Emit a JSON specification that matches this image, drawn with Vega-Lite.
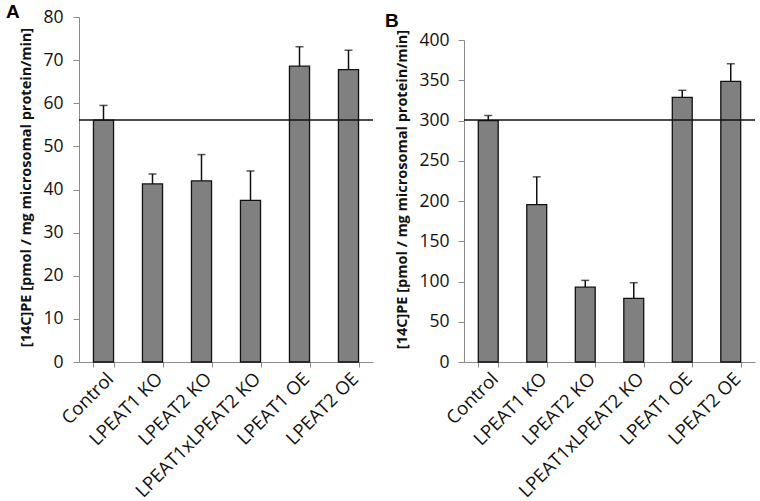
{
  "$schema": "https://vega.github.io/schema/vega-lite/v6.json",
  "background": "white",
  "padding": {"left": 5, "top": 3, "right": 3, "bottom": 2},
  "spacing": 10,
  "config": {
    "view": {"stroke": null},
    "axis": {
      "labelFont": "Open Sans",
      "labelFontSize": 17.5,
      "labelColor": "#111111",
      "titleFont": "Open Sans",
      "titleFontSize": 14.5,
      "titleFontWeight": "bold",
      "titleColor": "#111111",
      "domainColor": "#8c8c8c",
      "tickColor": "#8c8c8c",
      "domainWidth": 1,
      "grid": false
    },
    "title": {"font": "Liberation Sans", "fontSize": 19, "fontWeight": "bold", "color": "#000000", "anchor": "start", "frame": "bounds"}
  },
  "hconcat": [
    {
      "title": {"text": "A", "dx": -13, "offset": -14},
      "width": 294,
      "height": 345,
      "data": {"values": [
        {"g": "Control", "v": 56.1, "upper": 59.5},
        {"g": "LPEAT1 KO", "v": 41.3, "upper": 43.6},
        {"g": "LPEAT2 KO", "v": 42.0, "upper": 48.1},
        {"g": "LPEAT1xLPEAT2 KO", "v": 37.5, "upper": 44.3},
        {"g": "LPEAT1 OE", "v": 68.6, "upper": 73.1},
        {"g": "LPEAT2 OE", "v": 67.8, "upper": 72.3}
      ]},
      "encoding": {
        "x": {"field": "g", "type": "nominal", "sort": null,
          "scale": {"paddingInner": 0.59, "paddingOuter": 0.295},
          "axis": {"title": null, "labelAngle": -45, "labelFontSize": 18.5, "tickBand": "extent", "tickSize": 5, "labelPadding": 2}}
      },
      "layer": [
        {"mark": {"type": "bar", "fill": "#808080", "stroke": "#111111", "strokeWidth": 1.3},
          "encoding": {"y": {"field": "v", "type": "quantitative", "title": "[14C]PE [pmol / mg microsomal protein/min]",
            "scale": {"domain": [0, 80]},
            "axis": {"values": [0, 10, 20, 30, 40, 50, 60, 70, 80], "tickSize": 6, "labelPadding": 10, "titlePadding": 9, "titleY": 170}}}},
        {"mark": {"type": "rule", "color": "#111111", "strokeWidth": 1.5},
          "encoding": {"y": {"field": "upper", "type": "quantitative", "title": "[14C]PE [pmol / mg microsomal protein/min]"}, "y2": {"field": "v"}}},
        {"mark": {"type": "tick", "color": "#111111", "thickness": 1.5, "size": 8},
          "encoding": {"y": {"field": "upper", "type": "quantitative", "title": "[14C]PE [pmol / mg microsomal protein/min]"}}},
        {"data": {"values": [{"ref": 56.1}]},
          "mark": {"type": "rule", "color": "#111111", "strokeWidth": 1.5},
          "encoding": {"y": {"field": "ref", "type": "quantitative", "title": "[14C]PE [pmol / mg microsomal protein/min]"}, "x": null}}
      ]
    },
    {
      "title": {"text": "B", "dx": -10, "offset": -14},
      "width": 291,
      "height": 345,
      "data": {"values": [
        {"g": "Control", "v": 299.8, "upper": 306.2},
        {"g": "LPEAT1 KO", "v": 195.4, "upper": 230.0},
        {"g": "LPEAT2 KO", "v": 93.0, "upper": 101.4},
        {"g": "LPEAT1xLPEAT2 KO", "v": 79.0, "upper": 98.5},
        {"g": "LPEAT1 OE", "v": 328.8, "upper": 337.5},
        {"g": "LPEAT2 OE", "v": 348.5, "upper": 370.5}
      ]},
      "encoding": {
        "x": {"field": "g", "type": "nominal", "sort": null,
          "scale": {"paddingInner": 0.59, "paddingOuter": 0.295},
          "axis": {"title": null, "labelAngle": -45, "labelFontSize": 18.5, "tickBand": "extent", "tickSize": 5, "labelPadding": 2}}
      },
      "layer": [
        {"mark": {"type": "bar", "fill": "#808080", "stroke": "#111111", "strokeWidth": 1.3},
          "encoding": {"y": {"field": "v", "type": "quantitative", "title": "[14C]PE [pmol / mg microsomal protein/min]",
            "scale": {"domain": [0, 400], "range": [345, 23]},
            "axis": {"values": [0, 50, 100, 150, 200, 250, 300, 350, 400], "tickSize": 6, "labelPadding": 9, "titlePadding": 9, "titleY": 172}}}},
        {"mark": {"type": "rule", "color": "#111111", "strokeWidth": 1.5},
          "encoding": {"y": {"field": "upper", "type": "quantitative", "title": "[14C]PE [pmol / mg microsomal protein/min]"}, "y2": {"field": "v"}}},
        {"mark": {"type": "tick", "color": "#111111", "thickness": 1.5, "size": 8},
          "encoding": {"y": {"field": "upper", "type": "quantitative", "title": "[14C]PE [pmol / mg microsomal protein/min]"}}},
        {"data": {"values": [{"ref": 300.5}]},
          "mark": {"type": "rule", "color": "#111111", "strokeWidth": 1.5},
          "encoding": {"y": {"field": "ref", "type": "quantitative", "title": "[14C]PE [pmol / mg microsomal protein/min]"}, "x": null}}
      ]
    }
  ]
}
